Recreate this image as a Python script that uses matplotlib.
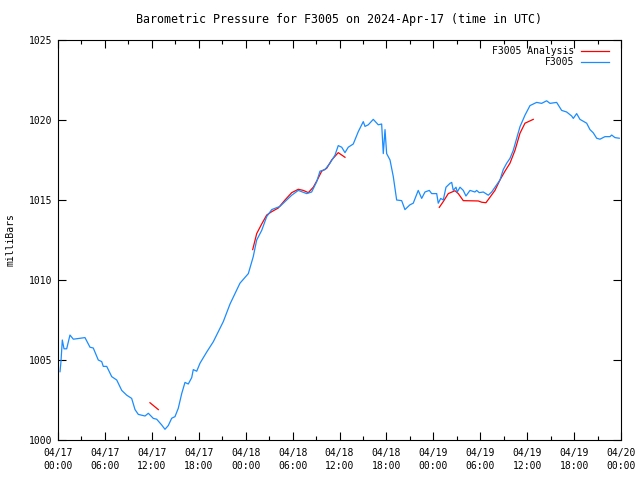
import numpy as np
import matplotlib
matplotlib.use("Agg")
import matplotlib.pyplot as plt
from matplotlib.ticker import MultipleLocator

# hours since 2024-04-17 00:00 UTC, pressure in mb
horas_obs = [0.26, 0.38, 0.55, 0.77, 1.11, 1.53, 1.96, 3.45, 4.09, 4.51, 5.15, 5.59, 5.79,
             6.23, 6.87, 7.51, 8.15, 8.79, 9.42, 9.85, 10.27, 11.13, 11.55, 12.19, 12.62,
             13.26, 13.68, 14.10, 14.54, 14.96, 15.38, 15.82, 16.24, 16.66, 17.10, 17.30,
             17.74, 18.16, 19.02, 19.86, 21.14, 22.00, 23.27, 24.34, 24.97, 25.41, 26.05,
             26.69, 27.33, 28.39, 29.03, 29.89, 30.73, 31.80, 32.44, 33.08, 33.50, 34.14,
             34.78, 35.42, 35.84, 36.28, 36.70, 37.12, 37.76, 38.40, 39.04, 39.26, 39.68,
             40.32, 40.96, 41.39, 41.60, 41.82, 42.03, 42.46, 42.88, 43.31, 43.95, 44.37,
             45.01, 45.43, 46.07, 46.51, 46.93, 47.48, 47.79, 48.43, 48.63, 48.94, 49.27,
             49.62, 50.13, 50.35, 50.55, 50.90, 51.06, 51.41, 51.83, 52.17, 52.69, 53.32,
             53.54, 53.87, 54.39, 55.03, 55.46, 55.88, 56.52, 56.94, 57.38, 57.80, 58.22,
             58.66, 59.08, 59.72, 60.36, 61.21, 61.85, 62.49, 62.92, 63.77, 64.41, 65.05,
             65.69, 65.90, 66.33, 66.75, 67.61, 68.03, 68.45, 68.89, 69.31, 69.95, 70.59,
             70.81, 71.23, 71.78]
presion_obs = [1004.27, 1004.9, 1006.25, 1005.7, 1005.7, 1006.56, 1006.3, 1006.4, 1005.8,
               1005.75, 1005.0, 1004.9, 1004.6, 1004.6, 1003.96, 1003.75, 1003.1, 1002.8,
               1002.6, 1001.9, 1001.6, 1001.5, 1001.67, 1001.35, 1001.3, 1000.94, 1000.67,
               1000.9, 1001.36, 1001.46, 1001.98, 1002.9, 1003.6, 1003.5, 1003.9, 1004.4,
               1004.3, 1004.8, 1005.5, 1006.14, 1007.4, 1008.5, 1009.8, 1010.4, 1011.46,
               1012.5, 1013.1, 1013.96, 1014.4, 1014.6, 1014.9, 1015.3, 1015.6, 1015.4,
               1015.5, 1016.14, 1016.8, 1016.9, 1017.3, 1017.8, 1018.4, 1018.3, 1017.96,
               1018.3, 1018.5, 1019.27, 1019.9, 1019.6, 1019.7, 1020.04, 1019.7, 1019.75,
               1017.9, 1019.4, 1017.9, 1017.5, 1016.46, 1015.0, 1014.96, 1014.4, 1014.7,
               1014.8, 1015.6, 1015.1, 1015.5, 1015.6, 1015.4, 1015.4, 1014.8, 1015.1,
               1015.0, 1015.8, 1016.04, 1016.1, 1015.6, 1015.8, 1015.5, 1015.8, 1015.6,
               1015.25, 1015.6, 1015.5, 1015.6, 1015.46, 1015.5, 1015.3, 1015.5, 1015.8,
               1016.25, 1016.9, 1017.3, 1017.6, 1018.1, 1018.86, 1019.58, 1020.3, 1020.9,
               1021.1, 1021.04, 1021.2, 1021.04, 1021.1, 1020.6, 1020.5, 1020.25, 1020.1,
               1020.4, 1020.04, 1019.8, 1019.4, 1019.2, 1018.86, 1018.8, 1018.96, 1018.96,
               1019.06, 1018.9, 1018.86]

# analysis segments (NaN separates them)
horas_ana = [11.76, 12.83, np.nan,
             24.90, 25.41, 26.05, 26.69, 27.33, 28.17, 29.03, 29.89, 30.73, 31.37, 32.01,
             32.65, 33.16, 33.72, 34.36, 35.00, 35.84, 36.70, np.nan,
             48.76, 49.27, 49.91, 50.77, 51.19, 51.83, 53.75, 54.19, 54.73, 55.24, 55.88,
             56.52, 57.16, 57.80, 58.44, 59.08, 59.72, 60.78]
presion_ana = [1002.33, 1001.9, np.nan,
               1011.9, 1012.9, 1013.5, 1014.06, 1014.27, 1014.5, 1015.0, 1015.46, 1015.67,
               1015.6, 1015.46, 1015.8, 1016.25, 1016.8, 1016.98, 1017.5, 1017.96, 1017.67,
               np.nan,
               1014.54, 1014.9, 1015.4, 1015.58, 1015.4, 1014.96, 1014.94, 1014.86, 1014.83,
               1015.17, 1015.6, 1016.25, 1016.8, 1017.3, 1018.1, 1019.17, 1019.8, 1020.04]

ticks_x = [0, 6, 12, 18, 24, 30, 36, 42, 48, 54, 60, 66, 72]
etiquetas_x = ["04/17\n00:00", "04/17\n06:00", "04/17\n12:00", "04/17\n18:00",
               "04/18\n00:00", "04/18\n06:00", "04/18\n12:00", "04/18\n18:00",
               "04/19\n00:00", "04/19\n06:00", "04/19\n12:00", "04/19\n18:00",
               "04/20\n00:00"]

plt.rcParams["font.family"] = "DejaVu Sans Mono"
plt.rcParams["font.size"] = 7

fig = plt.figure(figsize=(6.4, 4.8), dpi=100)
ax = fig.add_axes([58 / 640, 40 / 480, 563 / 640, 400 / 480])

ax.plot(horas_ana, presion_ana, color="#ff0000", lw=0.9, label="F3005 Analysis")
ax.plot(horas_obs, presion_obs, color="#1a8cff", lw=0.9, label="F3005")

ax.set_xlim(0, 72)
ax.set_ylim(1000, 1025)
ax.set_xticks(ticks_x)
ax.set_xticklabels(etiquetas_x, linespacing=1.3)
ax.xaxis.set_minor_locator(MultipleLocator(3))
ax.set_yticks(np.arange(1000, 1026, 5))
ax.tick_params(which="both", direction="in", top=True, right=True, width=0.8)
ax.tick_params(which="major", length=6)
ax.tick_params(axis="x", which="major", pad=6)
ax.tick_params(axis="y", which="major", pad=4)
ax.tick_params(which="minor", length=3)
for s in ax.spines.values():
    s.set_linewidth(0.8)

ax.set_ylabel("milliBars", labelpad=10)
ax.set_title("Barometric Pressure for F3005 on 2024-Apr-17 (time in UTC)", pad=12)
ax.legend(loc="upper right", bbox_to_anchor=(1 - 10 / 563, 1 - 4 / 400), frameon=False,
          markerfirst=False, handlelength=2.9, borderaxespad=0, borderpad=0.2,
          labelspacing=0.12, handletextpad=0.7)

fig.savefig("out.png", dpi=100)
